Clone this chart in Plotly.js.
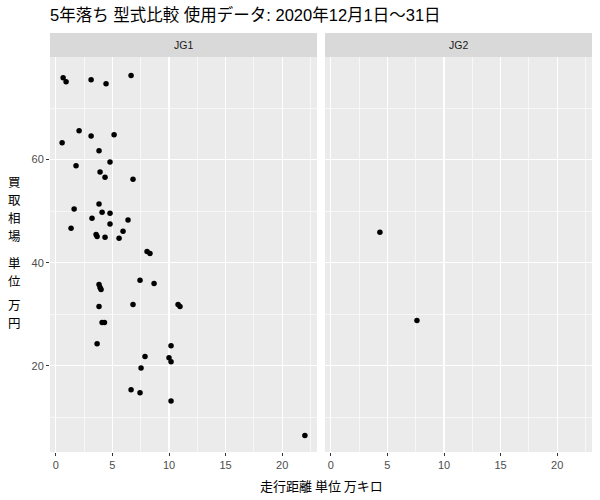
<!DOCTYPE html>
<html>
<head>
<meta charset="utf-8">
<script src="https://cdn.plot.ly/plotly-3.0.1.min.js"></script>
<style>html,body{margin:0;padding:0;background:#fff;}#chart{width:600px;height:500px;}</style>
</head>
<body>
<div id="chart"></div>
<script>
// Data
var panels = ["JG1", "JG2"];
var jg1_x = [0.65, 0.91, 3.12, 4.44, 6.65, 2.06, 3.12, 5.15, 0.56, 3.82, 4.79, 1.79, 3.91, 4.35, 6.82,
             3.82, 1.62, 4.09, 4.79, 3.2, 6.38, 4.79, 1.35, 5.94, 3.56, 3.65, 4.35, 5.59, 8.06, 8.32,
             7.44, 8.68, 3.82, 3.91, 4.0, 3.82, 6.82, 10.8, 10.97, 4.09, 4.3,
             3.65, 10.18, 7.88, 10.0, 10.18, 7.53, 6.65, 7.44, 10.18, 22.0];
var jg1_y = [75.9, 75.1, 75.5, 74.7, 76.3, 65.6, 64.6, 64.8, 63.25, 61.7, 59.55, 58.8, 57.6, 56.6, 56.2,
             51.4, 50.4, 49.8, 49.6, 48.65, 48.3, 47.5, 46.7, 46.1, 45.5, 45.1, 44.95, 44.75, 42.2, 41.8,
             36.6, 36.0, 35.8, 35.2, 34.8, 31.5, 31.9, 31.9, 31.5, 28.4, 28.4,
             24.3, 23.9, 21.8, 21.6, 20.8, 19.6, 15.35, 14.8, 13.2, 6.5];
var jg2_x = [4.34, 7.61];
var jg2_y = [45.9, 28.8];
var xTicks = [0, 5, 10, 15, 20];
var yTicks = [20, 40, 60];
var yTitleChars = ["買", "取", "相", "場", "単", "位", "万", "円"];

var fontFam = "Liberation Sans, Arial, Noto Sans CJK JP, sans-serif";
var cjkFam = "Noto Sans CJK JP, Liberation Sans, sans-serif";

var marker = {color: "#000000", size: 5.5};
var traces = [
  {x: jg1_x, y: jg1_y, type: "scatter", mode: "markers", marker: marker, xaxis: "x", yaxis: "y", hoverinfo: "x+y"},
  {x: jg2_x, y: jg2_y, type: "scatter", mode: "markers", marker: marker, xaxis: "x2", yaxis: "y2", hoverinfo: "x+y"}
];

var L = 50, R = 592, T = 57.3, B = 452;
var W = R - L, H = B - T;
var d1 = [0, 267 / W], d2 = [275 / W, 1];

function xAxis(domain, anchor) {
  return {
    domain: domain, anchor: anchor, range: [-0.51, 23.07],
    tickvals: xTicks, ticktext: xTicks.map(String),
    ticks: "outside", ticklen: 3, tickwidth: 1, tickcolor: "#333333",
    tickfont: {family: fontFam, size: 11, color: "#4D4D4D"},
    showgrid: true, gridcolor: "#FFFFFF", gridwidth: 1.2,
    minor: {dtick: 2.5, tick0: 0, showgrid: true, gridcolor: "#FFFFFF", gridwidth: 0.6, ticks: ""},
    zeroline: false, showline: false, fixedrange: true
  };
}
function yAxis(anchor, showLabels) {
  return {
    anchor: anchor, domain: [0, 1], range: [3.3, 79.9],
    tickvals: yTicks, ticktext: yTicks.map(String), showticklabels: showLabels,
    ticks: showLabels ? "outside" : "", ticklen: 3, tickwidth: 1, tickcolor: "#333333",
    tickfont: {family: fontFam, size: 11, color: "#4D4D4D"},
    showgrid: true, gridcolor: "#FFFFFF", gridwidth: 1.2,
    minor: {dtick: 10, tick0: 0, showgrid: true, gridcolor: "#FFFFFF", gridwidth: 0.6, ticks: ""},
    zeroline: false, showline: false, fixedrange: true
  };
}

var stripTop = (B - 33.3) / H;
var shapes = [];
var annotations = [];
[d1, d2].forEach(function (d, i) {
  shapes.push({type: "rect", xref: "paper", yref: "paper", x0: d[0], x1: d[1], y0: 0, y1: 1,
               fillcolor: "#EBEBEB", line: {width: 0}, layer: "below"});
  shapes.push({type: "rect", xref: "paper", yref: "paper", x0: d[0], x1: d[1], y0: 1, y1: stripTop,
               fillcolor: "#D9D9D9", line: {width: 0}, layer: "below"});
  annotations.push({text: panels[i], xref: "paper", yref: "paper", x: (d[0] + d[1]) / 2, y: (B - 45.3) / H,
                    xanchor: "center", yanchor: "middle", showarrow: false,
                    font: {family: fontFam, size: 10.5, color: "#1A1A1A"}});
});

// vertical (stacked) y-axis title, one character per line
var yTitlePos = [182, 200, 218, 236, 263, 281, 305, 323];
yTitleChars.forEach(function (c, i) {
  annotations.push({text: c, xref: "paper", yref: "paper", x: (14 - L) / W, y: (B - yTitlePos[i]) / H,
                    xanchor: "center", yanchor: "middle", showarrow: false, borderpad: 0,
                    font: {family: cjkFam, size: 12.5, color: "#000000"}});
});
annotations.push({text: "走行距離 単位 万キロ", xref: "paper", yref: "paper", x: (321 - L) / W, y: (B - 485) / H,
                  xanchor: "center", yanchor: "middle", showarrow: false,
                  font: {family: cjkFam, size: 13, color: "#000000"}});

var layout = {
  width: 600, height: 500,
  margin: {l: L, r: 600 - R, t: T, b: 500 - B, pad: 0},
  paper_bgcolor: "#FFFFFF", plot_bgcolor: "rgba(0,0,0,0)",
  showlegend: false,
  title: {text: "5年落ち 型式比較 使用データ: 2020年12月1日～31日", x: 50 / 600, xref: "container", xanchor: "left",
          y: 1 - 15 / 500, yref: "container", yanchor: "middle",
          font: {family: fontFam, size: 16.5, color: "#000000"}},
  xaxis: xAxis(d1, "y"),
  xaxis2: xAxis(d2, "y2"),
  yaxis: yAxis("x", true),
  yaxis2: yAxis("x2", false),
  shapes: shapes,
  annotations: annotations
};
layout.yaxis2.matches = "y";

Plotly.newPlot("chart", traces, layout, {displayModeBar: false, staticPlot: true});
</script>
</body>
</html>
